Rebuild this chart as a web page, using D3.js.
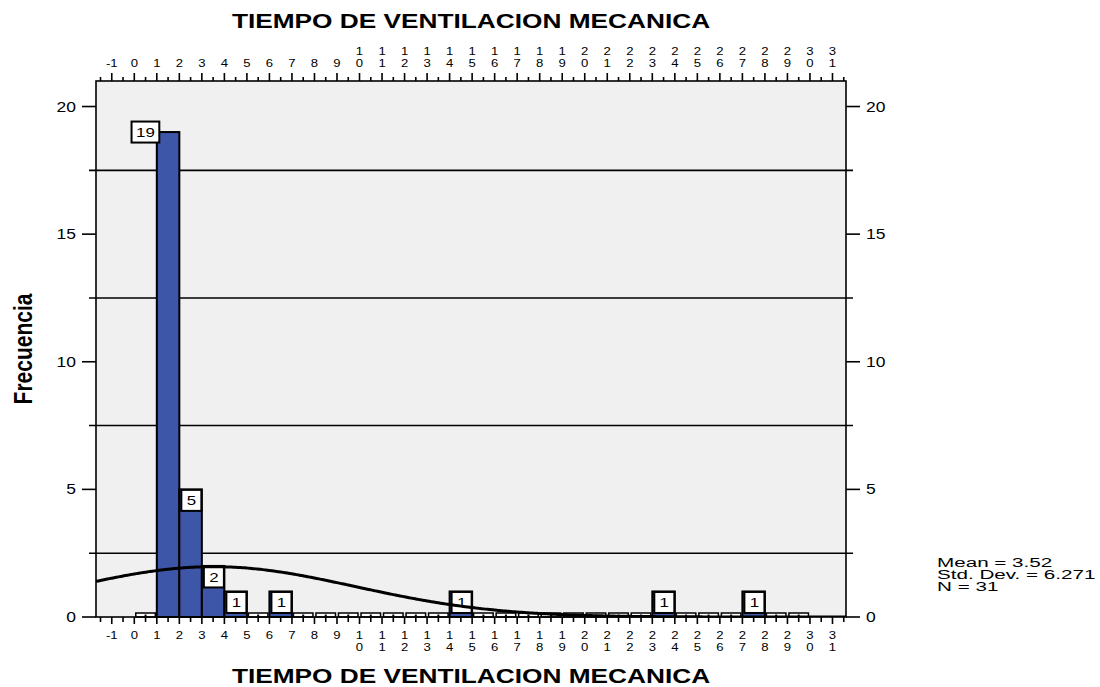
<!DOCTYPE html>
<html>
<head>
<meta charset="utf-8">
<script src="https://cdn.jsdelivr.net/npm/d3@7"></script>
<style>
  body { margin: 0; background: #fff; }
  text { font-family: "Liberation Sans", Arial, sans-serif; fill: #000; }
</style>
</head>
<body>
<div class="chart"></div>
<script>
// histogram bins (lower edge) and frequencies
var binLower = [0, 1, 2, 3, 4, 5, 6, 7, 8, 9, 10, 11, 12, 13, 14, 15, 16, 17, 18, 19, 20, 21, 22, 23, 24, 25, 26, 27, 28, 29];
var freq     = [0, 19, 5, 2, 1, 0, 1, 0, 0, 0, 0, 0, 0, 0, 1, 0, 0, 0, 0, 0, 0, 0, 0, 1, 0, 0, 0, 1, 0, 0];

var xTicks = [-1, 0, 1, 2, 3, 4, 5, 6, 7, 8, 9, 10, 11, 12, 13, 14, 15, 16, 17, 18, 19, 20, 21, 22, 23, 24, 25, 26, 27, 28, 29, 30, 31];
var yTicks = [0, 5, 10, 15, 20];
var yGrid = [2.5, 7.5, 12.5, 17.5];

var stats = { mean: 3.52, sd: 6.271, n: 31 };
var statLines = ["Mean = 3.52", "Std. Dev. = 6.271", "N = 31"];

var title = "TIEMPO DE VENTILACION MECANICA";
var yTitle = "Frecuencia";

var svgWidth = 1100;
var svgHeight = 687;
var margin = { top: 81, left: 96 };
var width = 750;
var height = 536;
var sx = 1.25; // text is stretched horizontally

var svg = d3.select(".chart")
  .append("svg")
  .attr("width", svgWidth)
  .attr("height", svgHeight);

var chart = svg.append("g")
  .attr("transform", "translate(" + margin.left + "," + margin.top + ")");

var x = d3.scaleLinear().domain([-1.7, 31.6]).range([0, width]);
var y = d3.scaleLinear().domain([0, 21]).range([height, 0]);

function stretchedText(parent, tx, ty, str, size, anchor, weight) {
  return parent.append("text")
    .attr("transform", "translate(" + tx + "," + ty + ") scale(" + sx + ",1)")
    .attr("text-anchor", anchor || "middle")
    .style("font-size", size + "px")
    .style("font-weight", weight || "normal")
    .text(str);
}

// plot background
chart.append("rect")
  .attr("width", width)
  .attr("height", height)
  .attr("fill", "#f0f0f0");

chart.append("clipPath").attr("id", "plotClip")
  .append("rect").attr("width", width).attr("height", height);

// horizontal reference lines
chart.selectAll(".grid")
  .data(yGrid)
  .enter().append("line")
    .attr("x1", -7)
    .attr("x2", width + 7)
    .attr("y1", function(d) { return y(d); })
    .attr("y2", function(d) { return y(d); })
    .attr("stroke", "#000")
    .attr("stroke-width", 1.6);

var bins = binLower.map(function(b, i) { return { lo: b, hi: b + 1, count: freq[i] }; });

// empty bins drawn as small boxes
var empty = chart.selectAll(".empty")
  .data(bins.filter(function(d) { return d.count === 0; }))
  .enter().append("g");
empty.append("rect")
  .attr("x", function(d) { return x(d.lo) + 1.5; })
  .attr("y", height - 4)
  .attr("width", function(d) { return x(d.hi) - x(d.lo) - 3; })
  .attr("height", 4)
  .attr("fill", "#fff")
  .attr("stroke", "#000")
  .attr("stroke-width", 1.5);
empty.append("rect")
  .attr("x", function(d) { return x(d.lo + 0.5) - 1; })
  .attr("y", height - 2.5)
  .attr("width", 2)
  .attr("height", 2)
  .attr("fill", "#000");

// bars
var filled = bins.filter(function(d) { return d.count > 0; });
chart.selectAll(".bar")
  .data(filled)
  .enter().append("rect")
    .attr("x", function(d) { return x(d.lo); })
    .attr("y", function(d) { return y(d.count); })
    .attr("width", function(d) { return x(d.hi) - x(d.lo); })
    .attr("height", function(d) { return y(0) - y(d.count); })
    .attr("fill", "#3e56a8")
    .attr("stroke", "#000")
    .attr("stroke-width", 2);

// bar labels
filled.forEach(function(d) {
  var s = String(d.count);
  var tw = s.length * 13.5 * 0.556 * sx;
  var bw = x(d.hi) - x(d.lo);
  var bx, by, boxW = 20, boxH = 21;
  if (tw + 8 > bw) {
    boxW = tw + 9;
    bx = x(d.lo) + 2.5 - boxW;
    by = y(d.count) - boxH / 2;
  } else {
    bx = x(d.lo) + 2;
    by = y(d.count) + 0.5;
    boxW = bw - 2.5;
  }
  chart.append("rect")
    .attr("x", bx).attr("y", by)
    .attr("width", boxW).attr("height", boxH)
    .attr("fill", "#fff")
    .attr("stroke", "#000")
    .attr("stroke-width", 2);
  stretchedText(chart, bx + boxW / 2, by + boxH / 2 + 5, s, 13.5);
});

// normal curve
var curveX = d3.range(-1.7, 31.61, 0.1);
var line = d3.line()
  .x(function(v) { return x(v); })
  .y(function(v) {
    var z = (v - stats.mean) / stats.sd;
    return y(stats.n / (stats.sd * Math.sqrt(2 * Math.PI)) * Math.exp(-0.5 * z * z));
  })
  .curve(d3.curveBasis);
chart.append("path")
  .datum(curveX)
  .attr("d", line)
  .attr("clip-path", "url(#plotClip)")
  .attr("fill", "none")
  .attr("stroke", "#000")
  .attr("stroke-width", 3);

// frame
chart.append("rect")
  .attr("width", width)
  .attr("height", height)
  .attr("fill", "none")
  .attr("stroke", "#000")
  .attr("stroke-width", 1.6);

// x ticks, top and bottom
var halfTicks = xTicks.map(function(v) { return v + 0.5; }).concat([-1.5]);
chart.selectAll(".tmaj").data(xTicks).enter().append("line")
  .attr("x1", function(d) { return x(d); }).attr("x2", function(d) { return x(d); })
  .attr("y1", -8).attr("y2", 0)
  .attr("stroke", "#000").attr("stroke-width", 1.6);
chart.selectAll(".tmin").data(halfTicks).enter().append("line")
  .attr("x1", function(d) { return x(d); }).attr("x2", function(d) { return x(d); })
  .attr("y1", -4).attr("y2", 0)
  .attr("stroke", "#000").attr("stroke-width", 1.6);
chart.selectAll(".bmaj").data(xTicks).enter().append("line")
  .attr("x1", function(d) { return x(d); }).attr("x2", function(d) { return x(d); })
  .attr("y1", height).attr("y2", height + 7)
  .attr("stroke", "#000").attr("stroke-width", 1.6);
chart.selectAll(".bmin").data(halfTicks).enter().append("line")
  .attr("x1", function(d) { return x(d); }).attr("x2", function(d) { return x(d); })
  .attr("y1", height).attr("y2", height + 5)
  .attr("stroke", "#000").attr("stroke-width", 1.6);

// x tick labels, digits stacked when two-digit
xTicks.forEach(function(v) {
  var s = String(v);
  var px = x(v);
  if (v >= 10) {
    stretchedText(chart, px, 54.5 - margin.top, s[0], 10.5);
    stretchedText(chart, px, 67 - margin.top, s[1], 10.5);
    stretchedText(chart, px, 638.5 - margin.top, s[0], 10.5);
    stretchedText(chart, px, 650.5 - margin.top, s[1], 10.5);
  } else {
    stretchedText(chart, px, 67 - margin.top, s, 10.5);
    stretchedText(chart, px, 638.5 - margin.top, s, 10.5);
  }
});

// y axes left and right
yTicks.forEach(function(v) {
  chart.append("line")
    .attr("x1", -14).attr("x2", 0)
    .attr("y1", y(v)).attr("y2", y(v))
    .attr("stroke", "#000").attr("stroke-width", 1.6);
  chart.append("line")
    .attr("x1", width).attr("x2", width + 14)
    .attr("y1", y(v)).attr("y2", y(v))
    .attr("stroke", "#000").attr("stroke-width", 1.6);
  stretchedText(chart, -20, y(v) + 5, String(v), 14, "end");
  stretchedText(chart, width + 20, y(v) + 5, String(v), 14, "start");
});

// titles
stretchedText(svg, margin.left + width / 2, 28, title, 21, "middle", "bold");
stretchedText(svg, margin.left + width / 2, 683, title, 21, "middle", "bold");

svg.append("text")
  .attr("transform", "translate(32," + (margin.top + y(10.5)) + ") scale(" + sx + ",1) rotate(-90)")
  .attr("text-anchor", "middle")
  .style("font-size", "21px")
  .style("font-weight", "bold")
  .text(yTitle);

// statistics
statLines.forEach(function(s, i) {
  svg.append("text")
    .attr("transform", "translate(937," + (567 + i * 12) + ") scale(1.72,1)")
    .style("font-size", "12px")
    .text(s);
});
</script>
</body>
</html>
